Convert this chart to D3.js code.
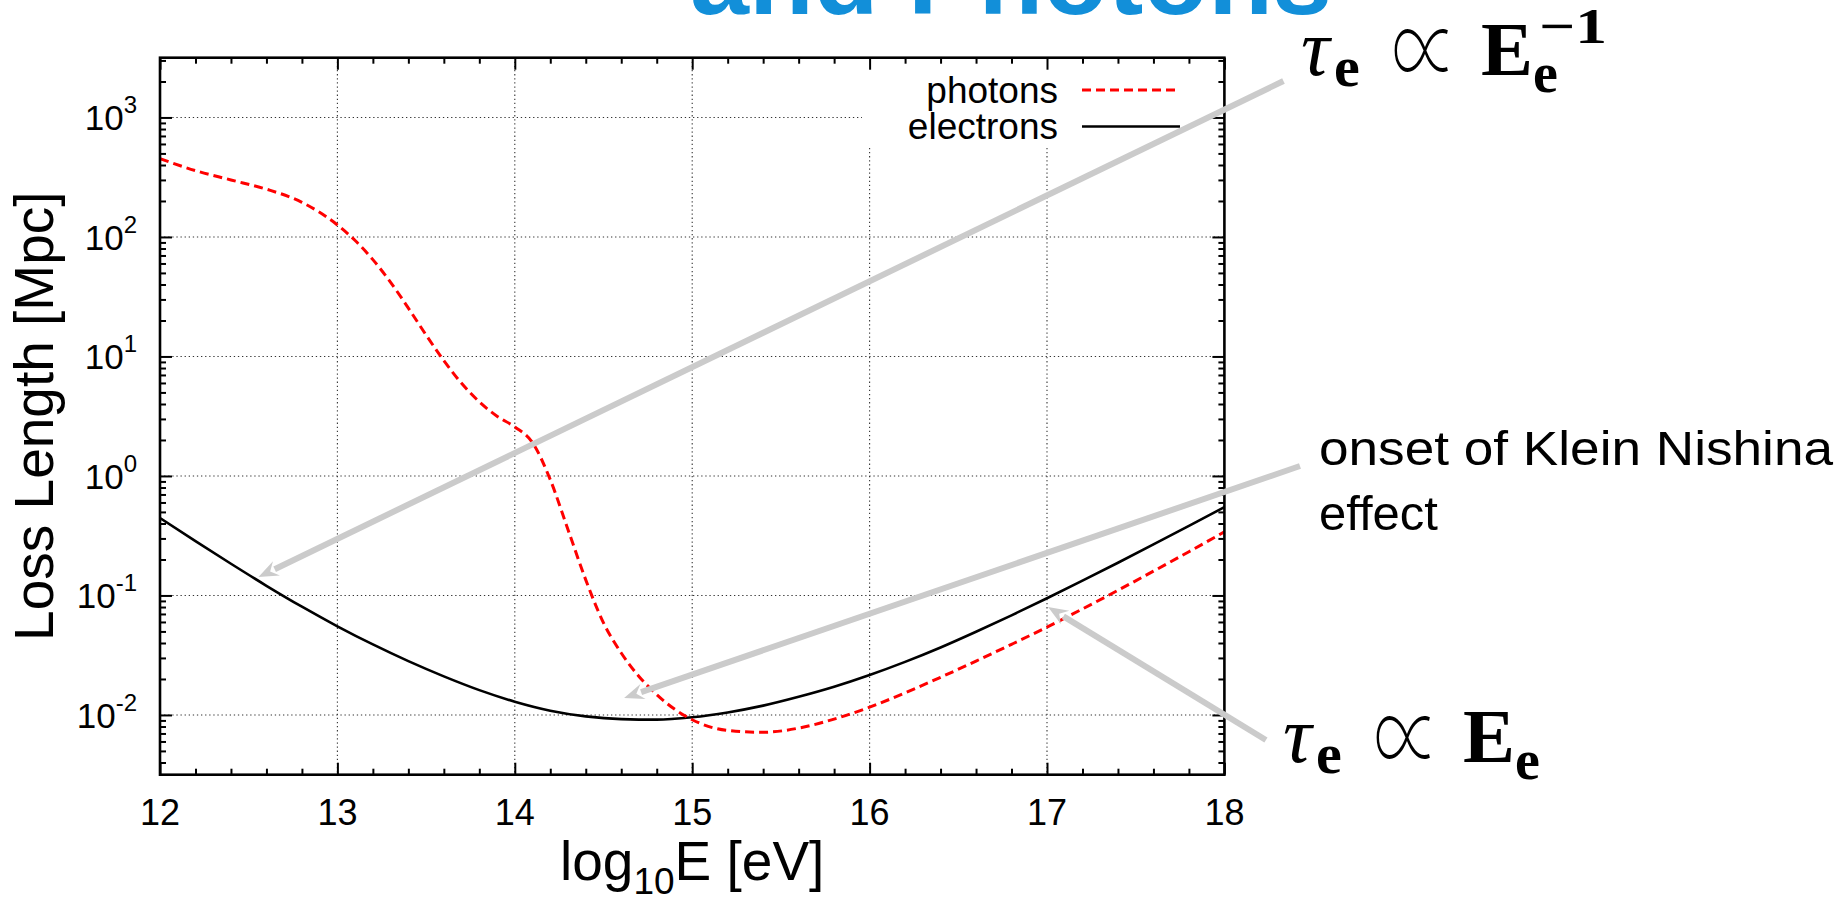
<!DOCTYPE html>
<html>
<head>
<meta charset="utf-8">
<script src="https://cdn.jsdelivr.net/npm/d3@7"></script>
<style>
  html, body { margin: 0; padding: 0; background: #fff; }
  svg { display: block; }
</style>
</head>
<body>
<svg id="chart" width="1846" height="898"></svg>
<script>
// ---- data: energy loss lengths in Mpc versus log10(E / eV) ----
const photonLogE = [12.0, 12.2, 12.4, 12.6, 12.8, 13.0, 13.1, 13.2, 13.3, 13.4, 13.5, 13.6, 13.7, 13.8, 13.9,
                    14.0, 14.1, 14.2, 14.3, 14.4, 14.5, 14.6, 14.7, 14.8, 14.9, 15.0, 15.2, 15.4, 15.6, 15.8,
                    16.0, 16.2, 16.4, 16.6, 16.8, 17.0, 17.2, 17.4, 17.6, 17.8, 18.0];
const photonLoss = [452, 359, 300, 251, 195, 126, 93.3, 64.6, 41.7, 25.4, 15.1, 9.23, 5.96, 4.17, 3.16,
                    2.57, 1.9, 0.93, 0.355, 0.135, 0.059, 0.033, 0.021, 0.0148, 0.0112, 0.00912, 0.00741, 0.00716, 0.00776, 0.00923,
                    0.01161, 0.01531, 0.02065, 0.02825, 0.03899, 0.0543, 0.0771, 0.1104, 0.1596, 0.2323, 0.3404];

const electronLogE = [12.0, 12.2, 12.4, 12.6, 12.8, 13.0, 13.2, 13.4, 13.6, 13.8, 14.0, 14.2, 14.4, 14.6, 14.8,
                      15.0, 15.2, 15.4, 15.6, 15.8, 16.0, 16.2, 16.4, 16.6, 16.8, 17.0, 17.2, 17.4, 17.6, 17.8, 18.0];
const electronLoss = [0.4446, 0.2844, 0.1841, 0.1205, 0.0805, 0.0552, 0.0389, 0.0282, 0.02104, 0.01614, 0.01291, 0.01086, 0.00973, 0.00923, 0.00914,
                      0.00957, 0.0105, 0.01197, 0.01419, 0.01722, 0.02158, 0.0278, 0.0367, 0.0497, 0.0682, 0.0948, 0.133, 0.1879, 0.2673, 0.3819, 0.5483];

const xTickValues = [12, 13, 14, 15, 16, 17, 18];
const yTickExponents = [-2, -1, 0, 1, 2, 3];
const seriesLabels = ["photons", "electrons"];

// annotation arrows, in (log10 E, log10 length) coordinates: tail -> head
const arrowTails = [[18.333, 3.305], [18.426, 0.083], [18.234, -2.21]];
const arrowHeads = [[12.555, -0.846], [14.616, -1.858], [17.006, -1.097]];

// ---- layout ----
const W = 1846, H = 898;
const plot = { left: 160, right: 1224.4, top: 57.7, bottom: 774.7 };

const svg = d3.select("#chart");
svg.append("rect").attr("width", W).attr("height", H).attr("fill", "#fff");

const x = d3.scaleLinear().domain([12, 18]).range([plot.left, plot.right]);
const y = d3.scaleLog().domain([Math.pow(10, -2.5), Math.pow(10, 3.5)]).range([plot.bottom, plot.top]);

const SANS = "'Liberation Sans', Arial, Helvetica, sans-serif";
const SERIF = "'Liberation Serif', 'Times New Roman', serif";

// ---- title fragment at the top ----
svg.append("text")
  .attr("x", 690).attr("y", 14)
  .attr("font-family", SANS).attr("font-weight", "bold").attr("font-size", 106)
  .attr("fill", "#128fd9")
  .text("and Photons");

// ---- grid ----
const grid = svg.append("g").attr("stroke", "#333").attr("stroke-width", 1.1).attr("stroke-dasharray", "1.3,2.8");
grid.selectAll("line.gx").data(xTickValues.slice(1, -1)).join("line")
  .attr("x1", d => x(d)).attr("x2", d => x(d))
  .attr("y1", plot.top).attr("y2", plot.bottom);
grid.selectAll("line.gy").data(yTickExponents).join("line")
  .attr("x1", plot.left).attr("x2", plot.right)
  .attr("y1", d => y(Math.pow(10, d))).attr("y2", d => y(Math.pow(10, d)));

// key area is kept clear of grid lines
svg.append("rect").attr("x", 862).attr("y", plot.top).attr("width", plot.right - 862).attr("height", 145 - plot.top)
  .attr("fill", "#fff");

// ---- curves ----
svg.append("clipPath").attr("id", "plotClip").append("rect")
  .attr("x", plot.left).attr("y", plot.top).attr("width", plot.right - plot.left).attr("height", plot.bottom - plot.top);

const line = d3.line().x(d => x(d[0])).y(d => y(d[1])).curve(d3.curveMonotoneX);
const photonPts = photonLogE.map((e, i) => [e, photonLoss[i]]);
const electronPts = electronLogE.map((e, i) => [e, electronLoss[i]]);

const curves = svg.append("g").attr("clip-path", "url(#plotClip)");
curves.append("path").datum(electronPts).attr("d", line)
  .attr("fill", "none").attr("stroke", "#000").attr("stroke-width", 2.6);
curves.append("path").datum(photonPts).attr("d", line)
  .attr("fill", "none").attr("stroke", "#ff0000").attr("stroke-width", 3).attr("stroke-dasharray", "9,5");

// ---- axes: inward ticks on all four sides ----
const xMinor = d3.range(12, 18.001, 0.2).filter(v => Math.abs(v - Math.round(v)) > 1e-6);
const yMajor = yTickExponents.map(e => Math.pow(10, e));
const yMinor = [];
for (let e = -3; e <= 3; e++) for (let m = 2; m <= 9; m++) {
  const v = m * Math.pow(10, e);
  if (v > y.domain()[0] && v < y.domain()[1]) yMinor.push(v);
}

function styleAxis(g) {
  g.select(".domain").remove();
  g.selectAll(".tick line").attr("stroke", "#000").attr("stroke-width", 2);
  g.selectAll(".tick text").remove();
}
const MAJ = 12, MIN = 6;
svg.append("g").attr("transform", `translate(0,${plot.bottom})`).call(d3.axisBottom(x).tickValues(xTickValues).tickSize(-MAJ)).call(styleAxis);
svg.append("g").attr("transform", `translate(0,${plot.bottom})`).call(d3.axisBottom(x).tickValues(xMinor).tickSize(-MIN)).call(styleAxis);
svg.append("g").attr("transform", `translate(0,${plot.top})`).call(d3.axisTop(x).tickValues(xTickValues).tickSize(-MAJ)).call(styleAxis);
svg.append("g").attr("transform", `translate(0,${plot.top})`).call(d3.axisTop(x).tickValues(xMinor).tickSize(-MIN)).call(styleAxis);
svg.append("g").attr("transform", `translate(${plot.left},0)`).call(d3.axisLeft(y).tickValues(yMajor).tickSize(-MAJ)).call(styleAxis);
svg.append("g").attr("transform", `translate(${plot.left},0)`).call(d3.axisLeft(y).tickValues(yMinor).tickSize(-MIN)).call(styleAxis);
svg.append("g").attr("transform", `translate(${plot.right},0)`).call(d3.axisRight(y).tickValues(yMajor).tickSize(-MAJ)).call(styleAxis);
svg.append("g").attr("transform", `translate(${plot.right},0)`).call(d3.axisRight(y).tickValues(yMinor).tickSize(-MIN)).call(styleAxis);

svg.append("rect")
  .attr("x", plot.left).attr("y", plot.top)
  .attr("width", plot.right - plot.left).attr("height", plot.bottom - plot.top)
  .attr("fill", "none").attr("stroke", "#000").attr("stroke-width", 2.6);

// tick labels
svg.append("g").selectAll("text").data(xTickValues).join("text")
  .attr("x", d => x(d)).attr("y", 825)
  .attr("text-anchor", "middle")
  .attr("font-family", SANS).attr("font-size", 36)
  .text(d => d);

const yLab = svg.append("g").selectAll("text").data(yTickExponents).join("text")
  .attr("x", 137).attr("y", d => y(Math.pow(10, d)) + 13)
  .attr("text-anchor", "end")
  .attr("font-family", SANS).attr("font-size", 35);
yLab.append("tspan").text("10");
yLab.append("tspan").attr("font-size", 24).attr("dy", -17).text(d => d < 0 ? "-" + (-d) : String(d));

// axis titles
svg.append("text")
  .attr("transform", `translate(53,${(plot.top + plot.bottom) / 2}) rotate(-90)`)
  .attr("text-anchor", "middle")
  .attr("font-family", SANS).attr("font-size", 55)
  .text("Loss Length [Mpc]");

const xTitle = svg.append("text")
  .attr("x", (plot.left + plot.right) / 2).attr("y", 880)
  .attr("text-anchor", "middle")
  .attr("font-family", SANS).attr("font-size", 55);
xTitle.append("tspan").text("log");
xTitle.append("tspan").attr("font-size", 37).attr("dy", 14).text("10");
xTitle.append("tspan").attr("dy", -14).text("E [eV]");

// ---- key ----
const key = svg.append("g");
const keyRows = [
  { label: seriesLabels[0], stroke: "#ff0000", dash: "9,5", width: 3 },
  { label: seriesLabels[1], stroke: "#000", dash: null, width: 2.6 }
];
keyRows.forEach((r, i) => {
  const cy = 90 + i * 36.5;
  key.append("text").attr("x", 1058).attr("y", cy + 12.5)
    .attr("text-anchor", "end").attr("font-family", SANS).attr("font-size", 37)
    .text(r.label);
  key.append("line").attr("x1", 1082).attr("x2", 1180).attr("y1", cy).attr("y2", cy)
    .attr("stroke", r.stroke).attr("stroke-width", r.width).attr("stroke-dasharray", r.dash);
});

// ---- annotation arrows ----
const arrows = svg.append("g");
arrowTails.forEach((t, i) => {
  const h = arrowHeads[i];
  const x0 = x(t[0]), y0 = y(Math.pow(10, t[1]));
  const x1 = x(h[0]), y1 = y(Math.pow(10, h[1]));
  const ang = Math.atan2(y1 - y0, x1 - x0);
  const L = 20, HW = 8;
  const bx = x1 - L * Math.cos(ang), by = y1 - L * Math.sin(ang);
  arrows.append("line").attr("x1", x0).attr("y1", y0).attr("x2", bx + 2 * Math.cos(ang)).attr("y2", by + 2 * Math.sin(ang))
    .attr("stroke", "#cbcbcb").attr("stroke-width", 6);
  const px = -Math.sin(ang), py = Math.cos(ang);
  arrows.append("path")
    .attr("d", `M${x1},${y1}L${bx + HW * px},${by + HW * py}L${bx + 0.35 * L * Math.cos(ang)},${by + 0.35 * L * Math.sin(ang)}L${bx - HW * px},${by - HW * py}Z`)
    .attr("fill", "#cbcbcb");
});

// ---- annotation texts: loss-length scaling laws ----
function scaling(g, x0, base, withExponent) {
  g.append("text").attr("x", x0).attr("y", base)
    .attr("font-family", SERIF).attr("font-style", "italic").attr("font-size", 80).text("τ");
  g.append("text").attr("x", x0 + 33).attr("y", base + 11)
    .attr("font-family", SERIF).attr("font-weight", "bold").attr("font-size", 58).text("e");
  g.append("text").attr("x", x0 + 91).attr("y", base + 18)
    .attr("font-family", "'Noto Sans CJK JP', 'DejaVu Serif', serif").attr("font-weight", 100).attr("font-size", 112)
    .attr("textLength", 66).attr("lengthAdjust", "spacingAndGlyphs").text("∝");
  g.append("text").attr("x", x0 + 180).attr("y", base)
    .attr("font-family", SERIF).attr("font-weight", "bold").attr("font-size", 76)
    .attr("textLength", 52).attr("lengthAdjust", "spacingAndGlyphs").text("E");
  g.append("text").attr("x", x0 + 232).attr("y", base + 17)
    .attr("font-family", SERIF).attr("font-weight", "bold").attr("font-size", 56).text("e");
  if (withExponent) {
    g.append("text").attr("x", x0 + 238).attr("y", base - 32)
      .attr("font-family", SERIF).attr("font-weight", "bold").attr("font-size", 50)
      .attr("textLength", 68).attr("lengthAdjust", "spacingAndGlyphs").text("−1");
  }
}
scaling(svg.append("g"), 1301, 75, true);
scaling(svg.append("g"), 1283, 762, false);

const kn = svg.append("g").attr("font-family", SANS).attr("font-size", 49);
kn.append("text").attr("x", 1319).attr("y", 465)
  .attr("textLength", 514).attr("lengthAdjust", "spacingAndGlyphs").text("onset of Klein Nishina");
kn.append("text").attr("x", 1319).attr("y", 530).text("effect");
</script>
</body>
</html>
